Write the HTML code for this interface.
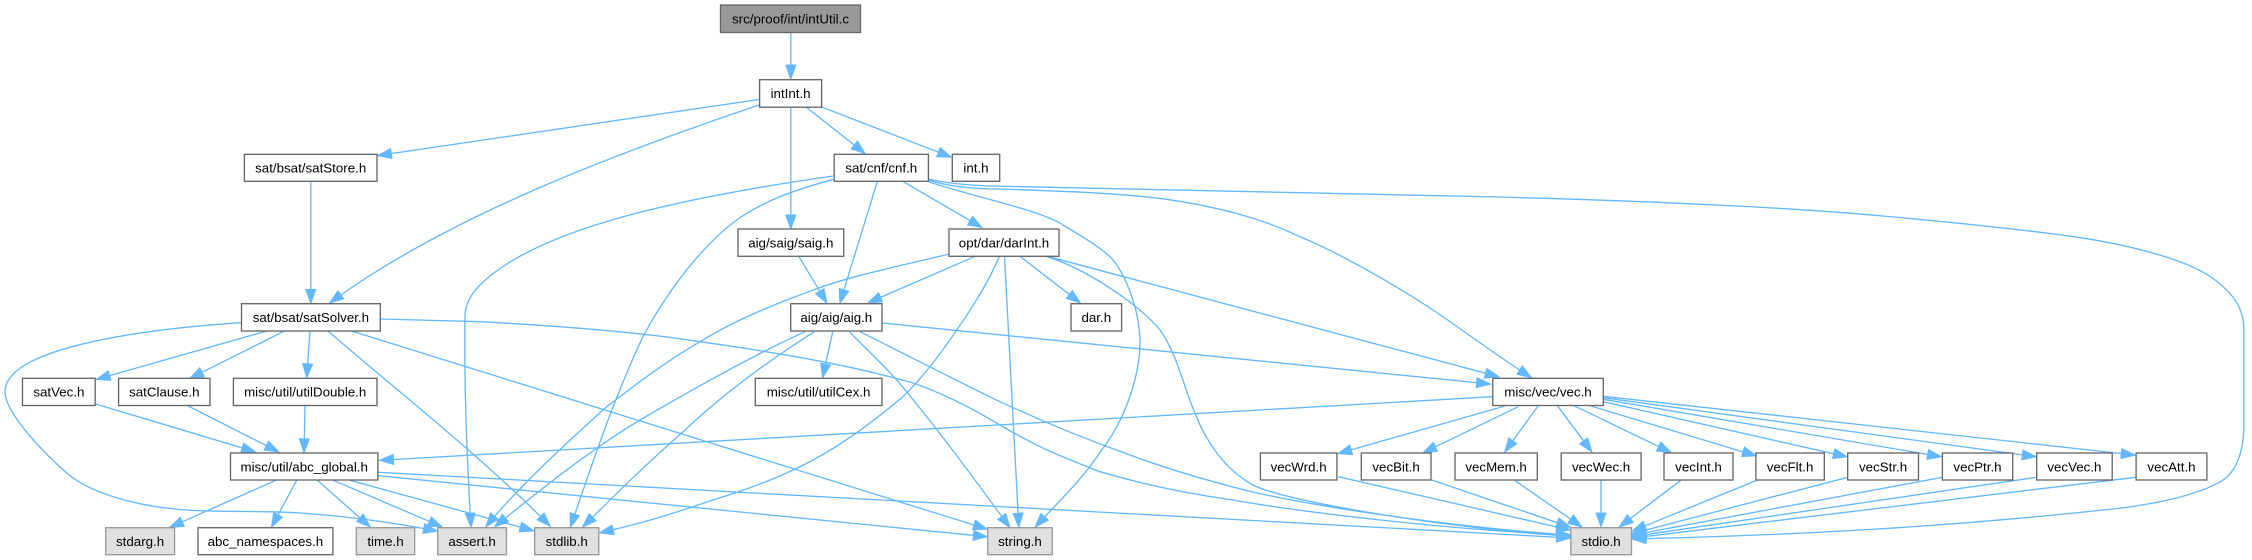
<!DOCTYPE html>
<html><head><meta charset="utf-8"><style>
html,body{margin:0;padding:0;background:#fff}
svg{display:block}
text{font-family:"Liberation Sans",Arial,sans-serif;font-size:13.33px;text-anchor:middle;fill:#000}
.e path{fill:none;stroke:#63b8ff;stroke-width:1.33;marker-end:url(#a)}
.n{fill:#fff;stroke:#666;stroke-width:1.33}
.l{fill:#e0e0e0;stroke:#999;stroke-width:1.33}
.s{fill:#999;stroke:#666;stroke-width:1.33}
</style></head><body>
<svg width="2252" height="560" viewBox="0 0 2252 560" xmlns="http://www.w3.org/2000/svg">
<defs><marker id="a" markerUnits="userSpaceOnUse" markerWidth="16" markerHeight="12" refX="14" refY="5.5" orient="auto"><path d="M0.5,0.5 L14.5,5.5 L0.5,10.5 z" fill="#63b8ff" stroke="#63b8ff" stroke-width="1"/></marker></defs>
<g class="e">
<path d="M790.8,32.5 L790.8,78.5"/>
<path d="M759,99.5 L378,155.5"/>
<path d="M759,105 C620,152 450,215 330,302.7"/>
<path d="M806.4,107.3 L864.8,153.3"/>
<path d="M821.7,107 L950.9,157"/>
<path d="M790.8,107.3 L790.8,228.5"/>
<path d="M310.8,181.5 L310.8,303"/>
<path d="M799,256.7 L826.7,302.7"/>
<path d="M877.3,181.7 L840,302.7"/>
<path d="M903.3,181.7 L981.7,227.3"/>
<path d="M974.3,256.7 L868.3,302.7"/>
<path d="M949.3,254 C900,266 850,276 813.3,290 C775,304 735,320 700,341.7 C665,362 635,385 606.7,406.7 C570,440 520,485 486,526.5"/>
<path d="M805,331.7 C760,352 700,385 640,420 C590,450 540,490 495,526.5"/>
<path d="M814.3,331.7 C770,360 725,392 681.7,433 C645,465 610,500 583,526.7"/>
<path d="M999.3,256.7 C987,285 972,308 956.7,330 C940,355 922,378 903,396.7 C875,420 845,443 813,460 C780,478 745,490 713,500 C675,513 640,524 600,532.7"/>
<path d="M833.3,179.3 C795,190 765,200 736.7,220 C700,247 665,295 643,336.7 C615,395 590,470 570.5,527"/>
<path d="M833.3,176 C700,195 540,225 480,285 C470,295 465,305 465,316.7 C464,380 467,460 471,526.7"/>
<path d="M241,322.7 C130,330 5,350 5,391.7 C5,410 35,445 66.7,473 C95,497 150,509 200,510.7 C240,512 270,511 300,513 C345,516 390,522 437,531"/>
<path d="M328,331 C390,385 480,455 550,526"/>
<path d="M351.5,331 L986.8,529"/>
<path d="M380.3,319 C420,320 450,321 480,321.7 C560,326 640,332 700,341.7 C780,353 850,365 913,383 C945,394 975,410 1000,425 C1020,437 1035,444 1047,450 C1065,458 1085,466 1100,471.7 C1145,485 1190,494 1233,500 C1300,512 1450,530 1570,535"/>
<path d="M266.7,331 L96.7,379.3"/>
<path d="M284.3,331 L190,378.3"/>
<path d="M310,331 L306.7,377.3"/>
<path d="M95.7,404 L255,451.7"/>
<path d="M188.3,406 L278.3,451.7"/>
<path d="M305,406 L304,452.3"/>
<path d="M275.7,480.3 L170,527.3"/>
<path d="M296.7,480.3 L271.7,526.7"/>
<path d="M317.3,480.3 L370,526.7"/>
<path d="M333.3,480.3 L441.7,526.7"/>
<path d="M350,480.3 L533.3,530.7"/>
<path d="M378.3,475.7 L986.8,536.7"/>
<path d="M378.3,472.3 L1570,538"/>
<path d="M1492.7,396.7 L380,460.3"/>
<path d="M832.7,331.7 L822.7,377.3"/>
<path d="M849.3,331.7 C865,348 881,362 896.7,380 C935,425 975,480 1009.7,527.3"/>
<path d="M860,331.7 C905,354 955,380 1000,401.7 C1040,420 1080,437 1116.7,450 C1155,465 1195,477 1233,487 C1300,505 1450,527 1570,535"/>
<path d="M882,323 L1490,384"/>
<path d="M1020,256.3 L1080,302.7"/>
<path d="M1004.5,256.3 L1018.8,526.7"/>
<path d="M1046.7,256.7 C1085,268 1140,305 1160,330 C1178,355 1186,395 1195,413 C1205,440 1225,470 1253,485 C1285,502 1460,530 1570,536"/>
<path d="M1048.7,256.7 L1498.5,376.7"/>
<path d="M928.4,181.7 C985,200 1040,210 1063,225 C1085,238 1098,246 1110,256.7 C1125,272 1140,310 1140,343 C1140,375 1125,420 1101.7,450 C1082,480 1060,500 1035.5,526.7"/>
<path d="M928.4,180 C950,187 975,189 1000,189 C1060,191 1120,193 1166.7,199.3 C1225,208 1265,220 1300,236.7 C1340,253 1400,288 1433,310 C1470,335 1500,358 1531,377.3"/>
<path d="M928.4,179 C945,183 965,185 989,186 L1500,197 C1650,201 1800,208 1882.6,216 C1950,222 2010,228 2074,236.7 C2130,245 2190,260 2215,280 C2235,295 2244,310 2243.8,330 L2243.8,423 C2244,455 2235,475 2217.5,483.3 C2195,495 2160,503 2122,508 C1950,527 1800,535 1632.5,539"/>
<path d="M1505,406 L1338.3,453.5"/>
<path d="M1518.3,406.7 L1423.3,452.7"/>
<path d="M1538,406 L1505,451.7"/>
<path d="M1557.4,405.7 L1591.7,451.7"/>
<path d="M1574,405.7 L1670.8,452.3"/>
<path d="M1590,405.7 L1755.9,455.7"/>
<path d="M1603.3,401.7 L1846.8,456.7"/>
<path d="M1603.3,399.3 L1941,456.7"/>
<path d="M1603.3,397.7 L2035.7,456.7"/>
<path d="M1603.3,396.3 L2134.7,455"/>
<path d="M1338.3,476.7 L1570,530"/>
<path d="M1431.7,480 L1570,527"/>
<path d="M1515,480.7 L1581.7,526.7"/>
<path d="M1601,480.7 L1601,526.5"/>
<path d="M1680.8,480.3 L1619.6,526.7"/>
<path d="M1756.9,480.3 L1632.5,531"/>
<path d="M1847.7,477.3 L1632.5,533.5"/>
<path d="M1942.4,477.3 L1632.5,535"/>
<path d="M2036.7,477.3 L1632.5,536.5"/>
<path d="M2136,477.3 L1632.5,538"/>
</g>
<rect class="s" x="720.5" y="5" width="140" height="27.5"/><text x="790.5" y="23.5">src/proof/int/intUtil.c</text>
<rect class="n" x="759.6" y="79.7" width="62" height="27.5"/><text x="790.6" y="98">intInt.h</text>
<rect class="n" x="244.4" y="154.3" width="132.6" height="27"/><text x="310.7" y="172.7">sat/bsat/satStore.h</text>
<rect class="n" x="834.2" y="154.3" width="94.2" height="27"/><text x="881.3" y="172.7">sat/cnf/cnf.h</text>
<rect class="n" x="952.3" y="154.3" width="47.4" height="27"/><text x="976" y="172.7">int.h</text>
<rect class="n" x="738" y="229" width="105.7" height="27.3"/><text x="790.8" y="247.3">aig/saig/saig.h</text>
<rect class="n" x="949" y="229" width="110" height="27.3"/><text x="1004" y="247.3">opt/dar/darInt.h</text>
<rect class="n" x="241.5" y="303.7" width="138.8" height="27.3"/><text x="310.9" y="322">sat/bsat/satSolver.h</text>
<rect class="n" x="790.7" y="303.7" width="91.3" height="27.3"/><text x="836.3" y="322">aig/aig/aig.h</text>
<rect class="n" x="1071" y="303.7" width="50.6" height="27.3"/><text x="1096.3" y="322">dar.h</text>
<rect class="n" x="22.5" y="378.3" width="72.7" height="27.2"/><text x="58.9" y="396.7">satVec.h</text>
<rect class="n" x="118.6" y="378.3" width="91.4" height="27.2"/><text x="164.3" y="396.7">satClause.h</text>
<rect class="n" x="233.4" y="378.3" width="143.6" height="27.2"/><text x="305.2" y="396.7">misc/util/utilDouble.h</text>
<rect class="n" x="755.3" y="378.3" width="126.7" height="27.2"/><text x="818.6" y="396.7">misc/util/utilCex.h</text>
<rect class="n" x="1492.8" y="378.3" width="110.5" height="27.2"/><text x="1548" y="396.7">misc/vec/vec.h</text>
<rect class="n" x="230.5" y="453" width="147.4" height="27"/><text x="304.2" y="471.3">misc/util/abc_global.h</text>
<rect class="n" x="1260.4" y="453" width="76.5" height="27"/><text x="1298.6" y="471.3">vecWrd.h</text>
<rect class="n" x="1361.3" y="453" width="69.7" height="27"/><text x="1396.1" y="471.3">vecBit.h</text>
<rect class="n" x="1455" y="453" width="82.3" height="27"/><text x="1496.1" y="471.3">vecMem.h</text>
<rect class="n" x="1561.2" y="453" width="79.9" height="27"/><text x="1601.1" y="471.3">vecWec.h</text>
<rect class="n" x="1664" y="453" width="69" height="27"/><text x="1698.5" y="471.3">vecInt.h</text>
<rect class="n" x="1755.9" y="453" width="68.4" height="27"/><text x="1790.1" y="471.3">vecFlt.h</text>
<rect class="n" x="1847.7" y="453" width="70.8" height="27"/><text x="1883.1" y="471.3">vecStr.h</text>
<rect class="n" x="1942.4" y="453" width="70.3" height="27"/><text x="1977.5" y="471.3">vecPtr.h</text>
<rect class="n" x="2036.7" y="453" width="75.5" height="27"/><text x="2074.4" y="471.3">vecVec.h</text>
<rect class="n" x="2136.1" y="453" width="70.8" height="27"/><text x="2171.5" y="471.3">vecAtt.h</text>
<rect class="l" x="105.7" y="527.7" width="68.9" height="27"/><text x="140.1" y="546">stdarg.h</text>
<rect class="n" x="198" y="527.7" width="134.9" height="27"/><text x="265.4" y="546">abc_namespaces.h</text>
<rect class="l" x="356.3" y="527.7" width="58.4" height="27"/><text x="385.5" y="546">time.h</text>
<rect class="l" x="437.7" y="527.7" width="68.8" height="27"/><text x="472.1" y="546">assert.h</text>
<rect class="l" x="534.7" y="527.7" width="64.1" height="27"/><text x="566.7" y="546">stdlib.h</text>
<rect class="l" x="987.7" y="527.7" width="64.6" height="27"/><text x="1020" y="546">string.h</text>
<rect class="l" x="1570.8" y="527.7" width="60.7" height="27"/><text x="1601.1" y="546">stdio.h</text>
</svg>
</body></html>
